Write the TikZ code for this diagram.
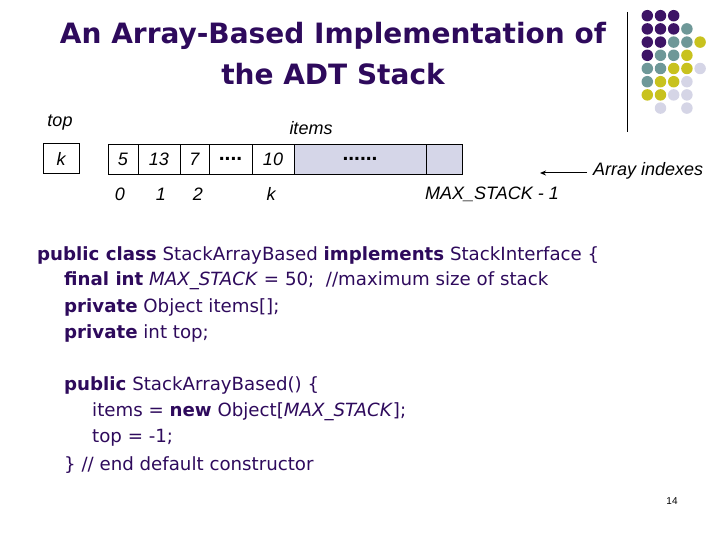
\documentclass[tikz,border=0pt]{standalone}
\usepackage{fontspec}
\setmainfont{DejaVu Sans}
\newfontfamily\arialfont{Liberation Sans}
\usetikzlibrary{arrows.meta}
\definecolor{ink}{HTML}{2E0A5C}
\definecolor{dP}{HTML}{3D1466}
\definecolor{dT}{HTML}{6E9898}
\definecolor{dY}{HTML}{C8C21E}
\definecolor{dL}{HTML}{D5D5E6}
\definecolor{shade}{HTML}{D5D6E8}
\def\nocol{N}
\tikzset{
  px/.style={x=1pt,y=-1pt},
  titletxt/.style={text=ink,font=\bfseries\fontsize{28}{30}\selectfont,inner sep=0pt},
  codetxt/.style={text=ink,font=\fontsize{18.2}{20}\selectfont,anchor=west,inner sep=0pt},
  lbl/.style={font=\arialfont\itshape\fontsize{18}{20}\selectfont,inner sep=0pt},
  cell/.style={draw,line width=0.8pt,minimum height=30pt,inner sep=0pt,font=\arialfont\itshape\fontsize{18}{20}\selectfont},
  dotcell/.style={cell,font=\arialfont\bfseries\fontsize{21}{20}\selectfont},
  dot/.style={circle,minimum size=11.5pt,inner sep=0pt},
}
\begin{document}
\begin{tikzpicture}[px]
\useasboundingbox (0,0) rectangle (720,540);
% title
\node[titletxt] (t1) at (333,36) {An Array-Based Implementation of};
\node[titletxt] (t2) at (333,74) {the ADT Stack};
% decoration
\draw[line width=0.8pt] (627,12) -- (627,132);
\foreach \r/\row in {0/{P,P,P,N,N},1/{P,P,P,T,N},2/{P,P,T,T,Y},3/{P,T,T,Y,N},4/{T,T,Y,Y,L},5/{T,Y,Y,L,N},6/{Y,Y,L,L,N},7/{N,L,N,L,N}}{
  \foreach \c [count=\i from 0] in \row {
    \ifx\c\nocol\else
      \node[dot,fill=d\c] (dot-\r-\i) at ({647.3+13.2*\i},{15.7+13.2*\r}) {};
    \fi
  }
}
% labels
\node[lbl] (top) at (60,123) {top};
\node[lbl] (items) at (311,128) {items};
\node[cell,minimum width=36pt] (topbox) at (61,158.5) {k};
\node[cell,minimum width=30pt] (c0) at (123,159) {5};
\node[cell,minimum width=42pt] (c1) at (159,159) {13};
\node[cell,minimum width=29pt] (c2) at (194.5,159) {7};
\node[dotcell,minimum width=43pt] (c3) at (230.5,159) {....};
\node[cell,minimum width=42pt] (c4) at (273,159) {10};
\node[dotcell,minimum width=132pt,fill=shade] (c5) at (360,159) {......};
\node[cell,minimum width=36pt,fill=shade] (c6) at (444,159) {};
\node[lbl] (i0) at (120,194) {0};
\node[lbl] (i1) at (161,194) {1};
\node[lbl] (i2) at (198,194) {2};
\node[lbl] (ik) at (271,194) {k};
\node[lbl,anchor=west] (imax) at (425,194) {MAX\_STACK - 1};
\node[lbl,anchor=west] (arr) at (593,171) {Array indexes};
\coordinate (arrend) at (540,173);
\draw[line width=1pt,-{Stealth[length=6pt,width=5pt]}] (arr.west |- arrend) ++(-6,0) -- (arrend);
% code
\node[codetxt] (l1) at (37,255) {\textbf{public class} StackArrayBased \textbf{implements} StackInterface \{};
\node[codetxt] (l2) at (64,281) {\textbf{final int} \textit{MAX\_STACK} = 50;\ \ //maximum size of stack};
\node[codetxt] (l3) at (64,307) {\textbf{private} Object items[];};
\node[codetxt] (l4) at (64,333) {\textbf{private} int top;};
\node[codetxt] (l5) at (64,385) {\textbf{public} StackArrayBased() \{};
\node[codetxt] (l6) at (92,412) {items = \textbf{new} Object[\textit{MAX\_STACK}];};
\node[codetxt] (l7) at (92,438) {top = -1;};
\node[codetxt] (l8) at (64,465) {\} // end default constructor};
\node[font=\arialfont\fontsize{10}{12}\selectfont,inner sep=0pt] (pg) at (672,501) {14};
\end{tikzpicture}
\end{document}
